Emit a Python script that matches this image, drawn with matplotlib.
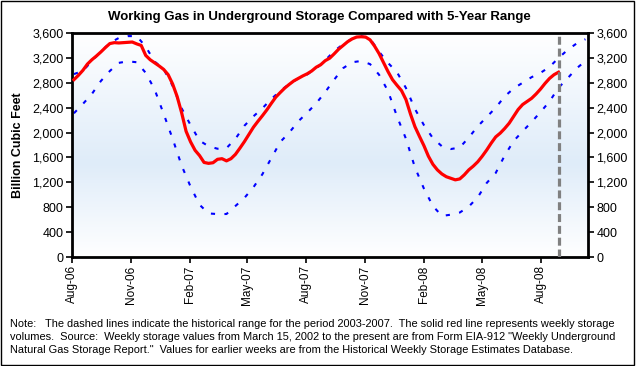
import numpy as np
import pandas as pd
import matplotlib
matplotlib.use("Agg")
import matplotlib.pyplot as plt
import matplotlib.dates as mdates
from matplotlib.colors import LinearSegmentedColormap
from matplotlib.ticker import FuncFormatter
from matplotlib.patches import Rectangle

plt.rcParams['font.family'] = ['Liberation Sans', 'DejaVu Sans']

# weekly working gas in storage (Bcf), starting week of 2006-08-04
storage = [
    2850, 2920, 3000, 3100, 3170, 3230, 3295, 3365, 3430, 3445,
    3440, 3445, 3450, 3455, 3425, 3400, 3240, 3170, 3120, 3070,
    3015, 2930, 2780, 2580, 2320, 2020, 1850, 1715, 1630, 1520,
    1505, 1515, 1570, 1580, 1545, 1580, 1650, 1750, 1855, 1970,
    2085, 2180, 2270, 2365, 2470, 2570, 2645, 2716, 2775, 2830,
    2870, 2910, 2945, 2990, 3050, 3090, 3155, 3195, 3265, 3340,
    3400, 3460, 3505, 3535, 3540, 3535, 3490, 3390, 3270, 3125,
    2980, 2850, 2760, 2675, 2530, 2300, 2095, 1940, 1790, 1620,
    1490, 1400, 1335, 1290, 1265, 1240, 1255, 1320, 1400, 1460,
    1530, 1620, 1720, 1830, 1930, 1990, 2065, 2150, 2260, 2370,
    2450, 2500, 2550, 2620, 2700, 2790, 2870, 2930, 2970,
]

# 5-year range (2003-2007), every two weeks from 2006-08-04
range_max = [
    2940, 2990, 3150, 3300, 3440, 3520, 3550, 3550, 3380, 3140,
    3020, 2750, 2390, 2120, 1870, 1780, 1740, 1750, 1900, 2110,
    2260, 2390, 2540, 2670, 2780, 2870, 2935, 3030, 3160, 3310,
    3420, 3510, 3550, 3510, 3300, 3120, 2970, 2716, 2380, 2120,
    1910, 1780, 1735, 1760, 1920, 2100, 2250, 2400, 2580, 2710,
    2800, 2890, 2960, 3055, 3198, 3327, 3430, 3500,
]
range_min = [
    2310, 2460, 2620, 2828, 2989, 3120, 3145, 3130, 2960, 2690,
    2300, 1900, 1470, 1130, 840, 700, 690, 691, 820, 950,
    1120, 1330, 1590, 1850, 2000, 2180, 2320, 2470, 2650, 2850,
    3035, 3130, 3150, 3100, 2930, 2668, 2260, 1900, 1440, 1100,
    820, 660, 680, 715, 810, 960, 1190, 1350, 1630, 1864,
    2020, 2170, 2330, 2500, 2720, 2870, 3030, 3150,
]

tick_months = ['2006-08-01', '2006-11-01', '2007-02-01', '2007-05-01', '2007-08-01',
               '2007-11-01', '2008-02-01', '2008-05-01', '2008-08-01']
y_ticks = list(range(0, 3601, 400))
latest_week = '2008-08-29'

note = ("Note:   The dashed lines indicate the historical range for the period 2003-2007.  "
        "The solid red line represents weekly storage\n"
        "volumes.  Source:  Weekly storage values from March 15, 2002 to the present are from "
        "Form EIA-912 \"Weekly Underground\n"
        "Natural Gas Storage Report.\"  Values for earlier weeks are from the Historical "
        "Weekly Storage Estimates Database.")

weeks = pd.date_range('2006-08-04', periods=len(storage), freq='7D')
range_weeks = pd.date_range('2006-08-04', periods=len(range_max), freq='14D')

fig = plt.figure(figsize=(6.38, 3.66), dpi=100)
W, H = 638, 366
ax = fig.add_axes([72 / W, (H - 257) / H, 516 / W, 224 / H])

# background gradient white -> light blue -> white
cmap = LinearSegmentedColormap.from_list('bg', [(0, '#ffffff'), (0.58, '#dfecf9'), (1, '#ffffff')])
grad = np.linspace(0, 1, 256).reshape(-1, 1)
ax.imshow(grad, cmap=cmap, aspect='auto', extent=[0, 1, 0, 1], transform=ax.transAxes,
          zorder=0, origin='upper')

ax.plot(range_weeks, range_max, color='#0000ff', lw=1.5, dashes=(2, 4.5), zorder=2)
ax.plot(range_weeks, range_min, color='#0000ff', lw=1.5, dashes=(2, 4.5), zorder=2)
ax.plot(weeks, storage, color='#ff0000', lw=2.3, zorder=3)
ax.axvline(pd.Timestamp(latest_week), color='#808080', lw=2.3, dashes=(2.5, 1.2), zorder=4)

ax.set_xlim(pd.Timestamp('2006-08-01'), pd.Timestamp('2008-10-14'))
ax.set_ylim(0, 3600)
ax.set_yticks(y_ticks)
ax.yaxis.set_major_formatter(FuncFormatter(lambda v, p: f"{int(v):,}"))
ax.set_xticks([pd.Timestamp(d) for d in tick_months])
ax.xaxis.set_major_formatter(mdates.DateFormatter('%b-%y'))
ax.tick_params(axis='x', rotation=90, labelsize=8.5, direction='out', length=4, width=1.2, pad=2)
ax.tick_params(axis='y', labelsize=9, direction='out', length=4, width=1.2,
               right=True, labelright=True, pad=2)
for s in ax.spines.values():
    s.set_linewidth(2)
    s.set_color('black')

ax.set_ylabel('Billion Cubic Feet', fontsize=9, fontweight='bold', labelpad=6)
fig.text(0.5, 1 - 17 / H, 'Working Gas in Underground Storage Compared with 5-Year Range',
         ha='center', va='center', fontsize=9.5, fontweight='bold')
fig.text(10 / W, 1 - 319 / H, note, ha='left', va='top', fontsize=7.9, linespacing=1.4)

fig.patches.append(Rectangle((1 / W, 1 / H), 633 / W, 364 / H, transform=fig.transFigure,
                             fill=False, edgecolor='black', lw=1))

fig.savefig('out.png', dpi=100)
